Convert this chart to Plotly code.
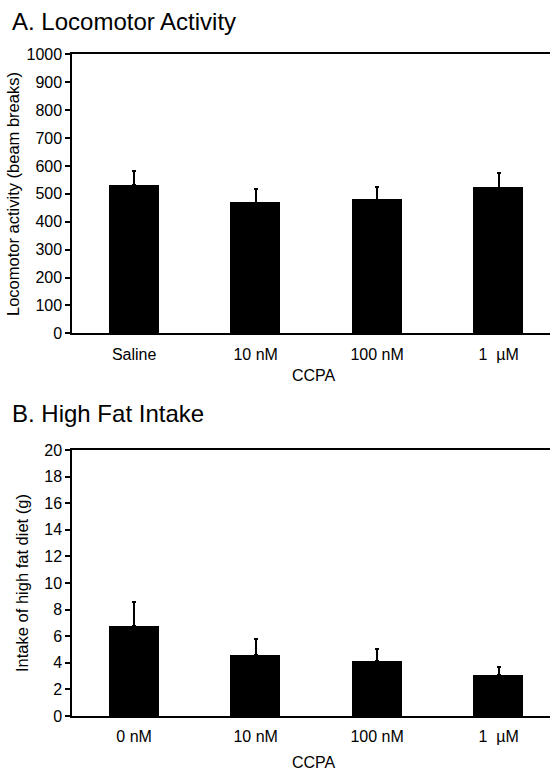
import plotly.graph_objects as go

# ---- data ----
cats_a = ["Saline", "10 nM", "100 nM", "1\u00a0 µM"]
loco_mean = [530, 468, 479, 522]
loco_err = [51, 49, 46, 54]

cats_b = ["0 nM", "10 nM", "100 nM", "1\u00a0 µM"]
fat_mean = [6.77, 4.59, 4.16, 3.06]
fat_err = [1.78, 1.20, 0.85, 0.65]

y_ticks_a = [0, 100, 200, 300, 400, 500, 600, 700, 800, 900, 1000]
y_ticks_b = [0, 2, 4, 6, 8, 10, 12, 14, 16, 18, 20]

W, H = 550, 775
FONT = "Liberation Sans, Arial, Helvetica, sans-serif"

fig = go.Figure()
fig.add_trace(go.Bar(
    x=cats_a, y=loco_mean, width=0.41, marker=dict(color="black", line=dict(width=0)),
    error_y=dict(type="data", array=loco_err, arrayminus=[0] * 4, symmetric=False,
                 color="black", thickness=2, width=2),
    xaxis="x", yaxis="y", showlegend=False))
fig.add_trace(go.Bar(
    x=cats_b, y=fat_mean, width=0.41, marker=dict(color="black", line=dict(width=0)),
    error_y=dict(type="data", array=fat_err, arrayminus=[0] * 4, symmetric=False,
                 color="black", thickness=2, width=2),
    xaxis="x2", yaxis="y2", showlegend=False))

x_dom = [72.3 / W, 1.0]
xr = [-0.509, 3.423]

def px_y(top, bottom):
    return [1 - bottom / H, 1 - top / H]

common_x = dict(domain=x_dom, range=xr, showline=True, linecolor="black", linewidth=2,
                mirror=True, ticks="", showgrid=False, zeroline=False,
                tickfont=dict(family=FONT, size=16, color="black"),
                ticklabelstandoff=5, automargin=False, fixedrange=True)
common_y = dict(showline=True, linecolor="black", linewidth=2, ticks="outside",
                ticklen=5, tickwidth=1.5, tickcolor="black", showgrid=False, zeroline=False,
                tickfont=dict(family=FONT, size=16, color="black"), automargin=False)

fig.update_layout(
    width=W, height=H,
    margin=dict(l=0, r=0, t=0, b=0),
    paper_bgcolor="white", plot_bgcolor="white",
    bargap=0,
    xaxis=dict(**common_x, anchor="y", type="category"),
    yaxis=dict(**common_y, domain=px_y(54.3, 333.3), range=[0, 1000], tickvals=y_ticks_a,
               anchor="x"),
    xaxis2=dict(**common_x, anchor="y2", type="category"),
    yaxis2=dict(**common_y, domain=px_y(450, 716), range=[0, 20], tickvals=y_ticks_b,
                anchor="x2"),
)

def ann(text, xp, yp, size, xanchor="center", angle=0):
    fig.add_annotation(text=text, x=xp / W, y=1 - yp / H, xref="paper", yref="paper",
                       xanchor=xanchor, yanchor="middle", showarrow=False, textangle=angle,
                       font=dict(family=FONT, size=size, color="black"))

ann("A. Locomotor Activity", 10, 21, 24, xanchor="left")
ann("B. High Fat Intake", 10, 413, 24, xanchor="left")
ann("Locomotor activity (beam breaks)", 13, 194, 16.5, angle=-90)
ann("Intake of high fat diet (g)", 22, 583, 16.5, angle=-90)
ann("CCPA", 314, 375, 16)
ann("CCPA", 314, 762, 16)

fig.write_html("out.html", config={"displayModeBar": False},
               post_script="document.body.style.margin='0';")
